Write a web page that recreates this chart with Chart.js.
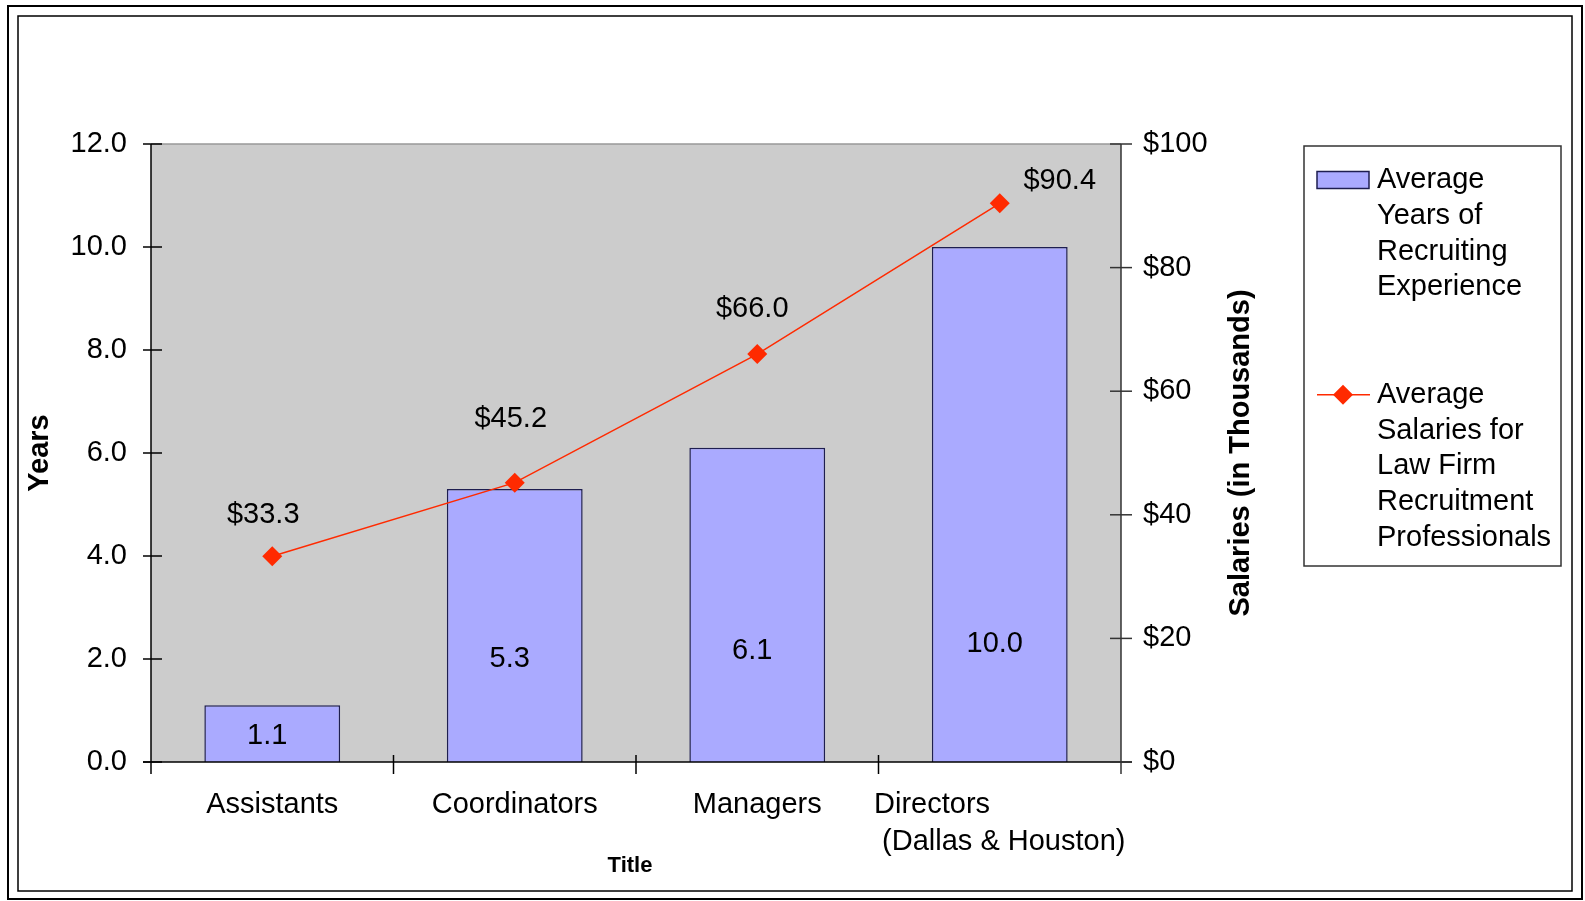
<!DOCTYPE html>
<html>
<head>
<meta charset="utf-8">
<title>Recruiting experience and salaries</title>
<script src="https://cdn.jsdelivr.net/npm/chart.js@4.4.1/dist/chart.umd.min.js"></script>
<style>
  html, body { margin: 0; padding: 0; background: #fff; }
  canvas { display: block; }
</style>
</head>
<body>
<canvas id="chart" width="1585" height="901"></canvas>
<script>
// The values
const categories = ['Assistants', 'Coordinators', 'Managers', ['Directors', ' (Dallas & Houston)']];
const yearsOfExperience = [1.1, 5.3, 6.1, 10.0];
const averageSalaries = [33.3, 45.2, 66.0, 90.4];
const yearTicks = [0, 2, 4, 6, 8, 10, 12];
const salaryTicks = [0, 20, 40, 60, 80, 100];
const seriesNames = ['Average Years of Recruiting Experience', 'Average Salaries for Law Firm Recruitment Professionals'];
const xAxisTitle = 'Title';
const leftAxisTitle = 'Years';
const rightAxisTitle = 'Salaries (in Thousands)';

const FONT = "'Liberation Sans', Arial, sans-serif";
const BAR_FILL = '#AAAAFF';
const BAR_EDGE = '#1E1E50';
const LINE_RED = '#FF2A00';

function line(ctx, x1, y1, x2, y2) {
    ctx.beginPath();
    ctx.moveTo(x1, y1);
    ctx.lineTo(x2, y2);
    ctx.stroke();
}

// Draws the Excel look: frame, grey plot area, crossing ticks, labels and legend
const excelLook = {
    id: 'excelLook',
    beforeDraw(chart) {
        const ctx = chart.ctx;
        const area = chart.chartArea;
        ctx.save();
        ctx.fillStyle = '#fff';
        ctx.fillRect(0, 0, chart.width, chart.height);
        // double frame round the chart
        ctx.strokeStyle = '#000';
        ctx.lineWidth = 2;
        ctx.strokeRect(8, 6, 1574, 893);
        ctx.lineWidth = 1.5;
        ctx.strokeRect(18, 16, 1554, 875);
        // plot area
        ctx.fillStyle = '#CCCCCC';
        ctx.fillRect(area.left, area.top, area.right - area.left, area.bottom - area.top);
        ctx.strokeStyle = '#999';
        ctx.lineWidth = 1.5;
        line(ctx, area.left, area.top, area.right, area.top);
        ctx.restore();
    },
    afterDatasetsDraw(chart, args, opts) {
        const ctx = chart.ctx;
        const area = chart.chartArea;
        const yL = chart.scales.y, yR = chart.scales.y1, xs = chart.scales.x;
        ctx.save();
        ctx.lineWidth = 1.5;
        ctx.strokeStyle = '#000';
        // left axis and its ticks
        line(ctx, area.left, area.top, area.left, area.bottom + 12);
        yearTicks.forEach(v => {
            const py = yL.getPixelForValue(v);
            line(ctx, area.left - 8, py, area.left + 11, py);
        });
        // bottom axis and category ticks
        line(ctx, area.left - 8, area.bottom, area.right + 11, area.bottom);
        for (let i = 1; i < categories.length; i++) {
            const b = (xs.getPixelForTick(i - 1) + xs.getPixelForTick(i)) / 2;
            line(ctx, b, area.bottom - 7, b, area.bottom + 12);
        }
        // right axis
        ctx.strokeStyle = '#333';
        line(ctx, area.right, area.top, area.right, area.bottom + 12);
        salaryTicks.forEach(v => {
            const py = yR.getPixelForValue(v);
            line(ctx, area.right - 11, py, area.right + 11, py);
        });

        ctx.fillStyle = '#000';
        ctx.font = '29px ' + FONT;
        ctx.textAlign = 'center';
        ctx.textBaseline = 'middle';
        // bar value labels
        const barMeta = chart.getDatasetMeta(0);
        barMeta.data.forEach((el, i) => {
            const py = yL.getPixelForValue(opts.barLabelAt[i]);
            ctx.fillText(yearsOfExperience[i].toFixed(1), el.x + opts.barLabelDx, py);
        });
        // salary labels
        const lineMeta = chart.getDatasetMeta(1);
        lineMeta.data.forEach((el, i) => {
            const off = opts.lineLabelOffsets[i];
            ctx.fillText('$' + averageSalaries[i].toFixed(1), el.x + off[0], el.y + off[1]);
        });
        ctx.restore();
    },
    afterDraw(chart) {
        const ctx = chart.ctx;
        const area = chart.chartArea;
        const xs = chart.scales.x;
        const midY = (area.top + area.bottom) / 2;
        ctx.save();
        ctx.fillStyle = '#000';
        ctx.textBaseline = 'middle';

        // category labels, multi-line ones as a left aligned block
        ctx.font = '29px ' + FONT;
        ctx.textAlign = 'left';
        categories.forEach((c, i) => {
            const lines = Array.isArray(c) ? c : [c];
            const block = Math.max(...lines.map(t => ctx.measureText(t).width));
            const left = xs.getPixelForTick(i) - block / 2;
            lines.forEach((t, k) => ctx.fillText(t, left, area.bottom + 42.5 + k * 37.5));
        });

        // axis titles
        ctx.textAlign = 'center';
        ctx.font = 'bold 22px ' + FONT;
        ctx.fillText(xAxisTitle, (area.left + area.right) / 2 - 6, area.bottom + 104);
        ctx.font = 'bold 29px ' + FONT;
        ctx.save();
        ctx.translate(39.5, midY);
        ctx.rotate(-Math.PI / 2);
        ctx.fillText(leftAxisTitle, 0, 0);
        ctx.restore();
        ctx.save();
        ctx.translate(area.right + 120, midY);
        ctx.rotate(-Math.PI / 2);
        ctx.fillText(rightAxisTitle, 0, 0);
        ctx.restore();

        // legend
        const boxX = 1304, boxY = 146, boxW = 257, boxH = 420;
        const rowH = 35.8, firstRow = 180;
        ctx.strokeStyle = '#333';
        ctx.lineWidth = 1.5;
        ctx.strokeRect(boxX, boxY, boxW, boxH);
        ctx.font = '29px ' + FONT;
        ctx.textAlign = 'left';
        let row = 0;
        chart.data.datasets.forEach(ds => {
            const words = ds.label.split(' ');
            const lines = [];
            let cur = '';
            words.forEach(w => {
                const test = cur ? cur + ' ' + w : w;
                if (cur && ctx.measureText(test).width > 182) {
                    lines.push(cur);
                    cur = w;
                } else {
                    cur = test;
                }
            });
            lines.push(cur);
            const cy = firstRow + row * rowH;
            if (ds.type === 'bar') {
                ctx.fillStyle = ds.backgroundColor;
                ctx.fillRect(1317, cy - 8.5, 52, 17);
                ctx.strokeStyle = ds.borderColor;
                ctx.strokeRect(1317, cy - 8.5, 52, 17);
            } else {
                ctx.strokeStyle = ds.borderColor;
                ctx.lineWidth = ds.borderWidth;
                line(ctx, 1317, cy, 1370, cy);
                ctx.fillStyle = ds.pointBackgroundColor;
                const r = ds.pointRadius;
                ctx.beginPath();
                ctx.moveTo(1343 - r, cy);
                ctx.lineTo(1343, cy - r);
                ctx.lineTo(1343 + r, cy);
                ctx.lineTo(1343, cy + r);
                ctx.closePath();
                ctx.fill();
            }
            ctx.fillStyle = '#000';
            lines.forEach((t, k) => ctx.fillText(t, 1377, cy + k * rowH));
            row += lines.length + 2;
        });
        ctx.restore();
    }
};

const ctx = document.getElementById('chart').getContext('2d');
new Chart(ctx, {
    data: {
        labels: categories,
        datasets: [
            {
                type: 'bar',
                label: seriesNames[0],
                data: yearsOfExperience,
                yAxisID: 'y',
                backgroundColor: BAR_FILL,
                borderColor: BAR_EDGE,
                borderWidth: 1.5,
                barPercentage: 0.56,
                categoryPercentage: 1,
                order: 1
            },
            {
                type: 'line',
                label: seriesNames[1],
                data: averageSalaries,
                yAxisID: 'y1',
                borderColor: LINE_RED,
                borderWidth: 1.5,
                pointStyle: 'rectRot',
                pointRadius: 10,
                pointBackgroundColor: LINE_RED,
                pointBorderColor: LINE_RED,
                pointBorderWidth: 0,
                tension: 0,
                fill: false,
                order: 0
            }
        ]
    },
    options: {
        responsive: false,
        animation: false,
        events: [],
        layout: { padding: { top: 144, right: 324, bottom: 0, left: 0 } },
        plugins: {
            legend: { display: false },
            tooltip: { enabled: false },
            excelLook: {
                barLabelAt: [0.5, 2.0, 2.15, 2.3],
                barLabelDx: -5,
                lineLabelOffsets: [[-9, -41], [-4, -64], [-5, -45], [60, -22]]
            }
        },
        scales: {
            x: {
                type: 'category',
                offset: true,
                grid: { display: false, drawTicks: false },
                border: { display: false },
                ticks: { display: false },
                afterFit(scale) { scale.height = 139; }
            },
            y: {
                position: 'left',
                min: yearTicks[0],
                max: yearTicks[yearTicks.length - 1],
                grid: { display: false, drawTicks: false },
                border: { display: false },
                ticks: {
                    stepSize: 2,
                    padding: 24,
                    color: '#000',
                    font: { family: FONT, size: 29 },
                    callback: v => v.toFixed(1)
                },
                afterFit(scale) { scale.width = 151; }
            },
            y1: {
                position: 'right',
                min: salaryTicks[0],
                max: salaryTicks[salaryTicks.length - 1],
                grid: { display: false, drawTicks: false },
                border: { display: false },
                ticks: {
                    stepSize: 20,
                    padding: 22,
                    color: '#000',
                    font: { family: FONT, size: 29 },
                    callback: v => '$' + v
                },
                afterFit(scale) { scale.width = 140; }
            }
        }
    },
    plugins: [excelLook]
});
</script>
</body>
</html>
